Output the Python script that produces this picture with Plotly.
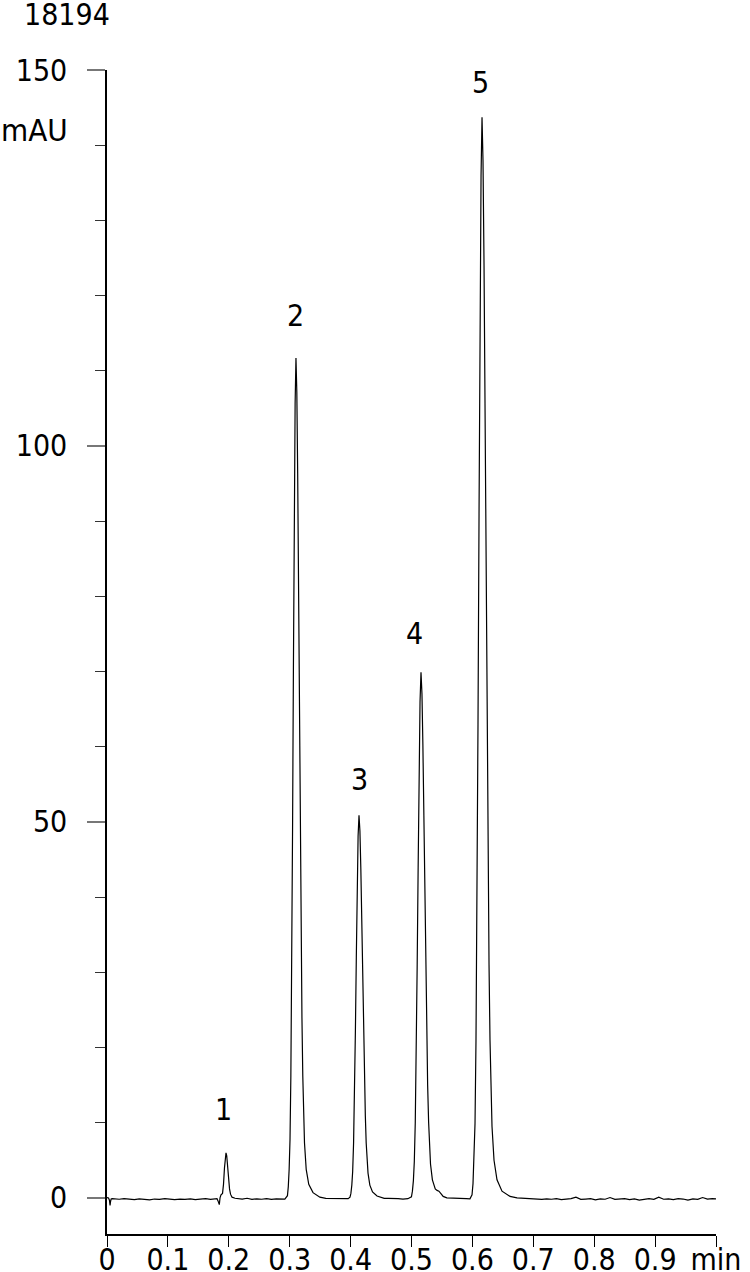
import plotly.graph_objects as go

# ---- data (time in min, signal in mAU) ----
start_t = [0.000, 0.0025, 0.0040, 0.0050, 0.0058, 0.0068, 0.0085]
start_v = [0.05, 0.0, -0.3, -1.0, -0.5, -0.15, -0.1]

base1_t = [0.012, 0.020, 0.028, 0.036, 0.045, 0.053, 0.061, 0.070, 0.078, 0.086, 0.095,
           0.103, 0.111, 0.120, 0.128, 0.137, 0.145, 0.153, 0.162, 0.170, 0.177]
base1_v = [-0.12, -0.18, -0.10, -0.16, -0.22, -0.12, -0.18, -0.25, -0.15, -0.20, -0.10,
           -0.18, -0.24, -0.15, -0.20, -0.12, -0.22, -0.17, -0.10, -0.20, -0.15]

peak1_t = [0.1806, 0.1823, 0.1844, 0.1856, 0.1872, 0.1897, 0.1913, 0.1929, 0.1946, 0.1954,
           0.1966, 0.1979, 0.1995, 0.2012, 0.2028, 0.2053, 0.2102]
peak1_v = [-0.1, -0.4, -0.9, 0.0, 0.4, 0.6, 1.8, 4.0, 5.7, 6.0,
           5.6, 4.2, 2.4, 1.2, 0.5, 0.1, -0.05]

base2_t = [0.214, 0.222, 0.230, 0.238, 0.246, 0.254, 0.262, 0.270, 0.278, 0.286, 0.292]
base2_v = [-0.10, -0.15, -0.05, -0.20, -0.12, -0.18, -0.10, -0.20, -0.14, -0.10, -0.15]

peak2_t = [0.2963, 0.2977, 0.2991, 0.3005, 0.3019, 0.3033, 0.3047, 0.3061, 0.3075, 0.3089, 0.3103,
           0.3117, 0.3131, 0.3145, 0.3159, 0.3173, 0.3187, 0.3201, 0.3215, 0.3229, 0.3243,
           0.3271, 0.3313, 0.3383, 0.3495, 0.3593]
peak2_v = [0.3, 1.5, 3.8, 7.7, 16.2, 30.1, 49.0, 70.3, 90.4, 105.6, 111.7,
           107.1, 96.3, 80.8, 62.9, 47.3, 34.1, 24.0, 16.2, 10.7, 7.3,
           3.8, 1.8, 0.7, 0.1, -0.05]

base3_t = [0.366, 0.374, 0.382, 0.390, 0.396]
base3_v = [-0.05, -0.12, -0.08, -0.15, -0.10]

peak3_t = [0.3990, 0.4005, 0.4020, 0.4034, 0.4049, 0.4064, 0.4079, 0.4094, 0.4108, 0.4123, 0.4138,
           0.4153, 0.4168, 0.4182, 0.4197, 0.4212, 0.4227, 0.4242, 0.4256, 0.4271, 0.4286,
           0.4316, 0.4360, 0.4434, 0.4552]
peak3_v = [0.1, 0.6, 1.7, 3.5, 7.3, 13.6, 22.3, 32.0, 41.1, 48.1, 50.9,
           48.8, 43.8, 36.8, 28.6, 21.5, 15.5, 10.9, 7.3, 4.8, 3.3,
           1.7, 0.8, 0.25, -0.05]

base4_t = [0.462, 0.470, 0.478, 0.486, 0.494]
base4_v = [-0.05, -0.12, -0.10, -0.15, -0.10]

peak4_t = [0.4999, 0.5015, 0.5031, 0.5046, 0.5062, 0.5078, 0.5093, 0.5109, 0.5125, 0.5140, 0.5156,
           0.5172, 0.5187, 0.5203, 0.5218, 0.5234, 0.5250, 0.5265, 0.5281, 0.5296, 0.5312,
           0.5343, 0.5390, 0.5420, 0.5450, 0.5480, 0.5520, 0.5580]
peak4_v = [0.15, 0.9, 2.3, 4.8, 10.1, 18.8, 30.7, 43.9, 56.5, 66.0, 69.9,
           67.0, 60.2, 50.5, 39.3, 29.5, 21.3, 15.0, 10.1, 6.7, 4.5,
           2.4, 1.2, 1.0, 0.9, 0.6, 0.2, 0.0]

base5_t = [0.566, 0.574, 0.582, 0.590, 0.596]
base5_v = [-0.05, -0.10, -0.15, -0.10, -0.12]

peak5_t = [0.5994, 0.6010, 0.6027, 0.6043, 0.6059, 0.6076, 0.6092, 0.6109, 0.6125, 0.6142, 0.6158,
           0.6174, 0.6191, 0.6207, 0.6224, 0.6240, 0.6257, 0.6273, 0.6289, 0.6306, 0.6322,
           0.6355, 0.6404, 0.6486, 0.6618, 0.6733]
peak5_v = [0.4, 1.9, 4.9, 9.9, 20.9, 38.8, 63.0, 91.0, 117.0, 136.0, 143.7,
           138.0, 124.0, 104.0, 81.0, 61.0, 44.0, 31.0, 21.0, 14.0, 9.5,
           5.0, 2.4, 0.9, 0.2, 0.0]

base6_t = [0.682, 0.690, 0.698, 0.706, 0.714, 0.722, 0.730, 0.738, 0.746, 0.754,
           0.762, 0.770, 0.778, 0.786, 0.794, 0.802, 0.810, 0.818, 0.826, 0.834,
           0.842, 0.850, 0.858, 0.866, 0.874, 0.882, 0.890, 0.898, 0.906, 0.914,
           0.922, 0.930, 0.938, 0.946, 0.954, 0.962, 0.970, 0.978, 0.986, 0.994, 1.000]
base6_v = [-0.05, -0.10, -0.15, -0.10, -0.20, -0.12, -0.18, -0.10, -0.22, -0.15,
           -0.10, 0.10, -0.20, -0.15, -0.10, -0.25, -0.12, -0.18, 0.05, -0.20,
           -0.15, -0.10, -0.22, -0.12, -0.30, -0.15, -0.10, -0.20, 0.10, -0.18,
           -0.12, -0.22, -0.10, -0.15, -0.30, -0.12, -0.20, 0.05, -0.15, -0.10, -0.12]

x_tick_vals = [0, 0.1, 0.2, 0.3, 0.4, 0.5, 0.6, 0.7, 0.8, 0.9, 1.0]
x_tick_text = ["0", "0.1", "0.2", "0.3", "0.4", "0.5", "0.6", "0.7", "0.8", "0.9", "min"]
y_tick_vals = [0, 50, 100, 150]
y_tick_text = ["0", "50", "100", "150"]

peak_names = ["1", "2", "3", "4", "5"]
peak_label_t = [0.1921, 0.3103, 0.4154, 0.5041, 0.6140]
peak_label_v = [11.7, 117.3, 55.7, 75.0, 148.4]

# ---- assemble the trace ----
t_all = (start_t + base1_t + peak1_t + base2_t + peak2_t + base3_t + peak3_t
         + base4_t + peak4_t + base5_t + peak5_t + base6_t)
v_all = (start_v + base1_v + peak1_v + base2_v + peak2_v + base3_v + peak3_v
         + base4_v + peak4_v + base5_v + peak5_v + base6_v)

FONT = "DejaVu Sans Condensed, DejaVu Sans, sans-serif"

fig = go.Figure()
fig.add_trace(go.Scatter(x=t_all, y=v_all, mode="lines",
                         line=dict(color="black", width=1.2),
                         hoverinfo="skip", showlegend=False))

annotations = []
for name, tx, ty in zip(peak_names, peak_label_t, peak_label_v):
    annotations.append(dict(x=tx, y=ty, xref="x", yref="y", text=name, showarrow=False,
                            font=dict(family=FONT, size=30, color="black"),
                            xanchor="center", yanchor="middle"))
annotations.append(dict(x=-0.0608, y=142.0, xref="paper", yref="y", text="mAU",
                        showarrow=False, font=dict(family=FONT, size=31, color="black"),
                        xanchor="right", yanchor="middle"))
annotations.append(dict(x=-0.1396, y=1.048, xref="paper", yref="paper", text="18194",
                        showarrow=False, font=dict(family=FONT, size=30, color="black"),
                        xanchor="left", yanchor="middle"))

fig.update_layout(
    width=750, height=1272,
    margin=dict(l=107, r=34, t=70, b=38, autoexpand=False),
    paper_bgcolor="white", plot_bgcolor="white",
    font=dict(family=FONT, size=30, color="black"),
    annotations=annotations,
    xaxis=dict(range=[0, 1.0], tickvals=x_tick_vals, ticktext=x_tick_text,
               automargin=False, ticklabelstandoff=-13,
               showline=True, linecolor="black", linewidth=1.5,
               ticks="outside", ticklen=11, tickwidth=1.2, tickcolor="black",
               showgrid=False, zeroline=False,
               tickfont=dict(family=FONT, size=30, color="black")),
    yaxis=dict(range=[-4.8, 150.0], tickvals=y_tick_vals, ticktext=y_tick_text,
               automargin=False,
               showline=True, linecolor="black", linewidth=1.5,
               ticks="outside", ticklen=18, tickwidth=1.5, tickcolor="#777777",
               ticklabelstandoff=14,
               minor=dict(ticks="outside", ticklen=10, tickwidth=1.2, tickcolor="#333333",
                          dtick=10, tick0=0, showgrid=False),
               showgrid=False, zeroline=False,
               tickfont=dict(family=FONT, size=30, color="black")),
)

fig.write_html("out.html", config={"displayModeBar": False},
               post_script="document.body.style.margin='0px';")
